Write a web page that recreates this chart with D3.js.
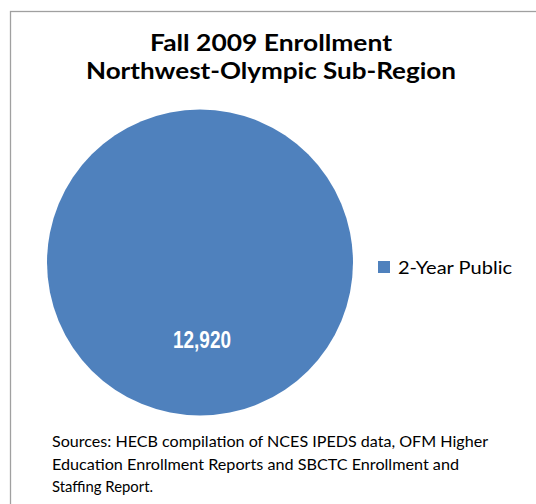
<!DOCTYPE html>
<html>
<head>
<meta charset="utf-8">
<script src="https://cdn.jsdelivr.net/npm/d3@7"></script>
<style>
  body { margin: 0; background: #fff; }
  svg { display: block; }
</style>
</head>
<body>
<svg width="536" height="504"></svg>
<script>
var categories = ["2-Year Public"];
var values = [12920];
var colors = ["#4f81bd"];
var titleLines = ["Fall 2009 Enrollment", "Northwest-Olympic Sub-Region"];
var sourceLines = [
  "Sources: HECB compilation of NCES IPEDS data, OFM Higher",
  "Education Enrollment Reports and SBCTC Enrollment and",
  "Staffing Report."
];

var svg = d3.select("svg"),
    width = +svg.attr("width"),
    height = +svg.attr("height");

// chart area border (runs off the right and bottom of the picture)
svg.append("rect")
    .attr("x", 10.5)
    .attr("y", 11.5)
    .attr("width", 700)
    .attr("height", 700)
    .attr("fill", "#fff")
    .attr("stroke", "#a0a0a0")
    .attr("stroke-width", 1.3);

// title
svg.append("g")
    .selectAll("text")
    .data(titleLines)
    .enter().append("text")
    .attr("x", 271)
    .attr("y", function(d, i) { return 51 + i * 28; })
    .attr("text-anchor", "middle")
    .attr("font-family", "Lato, 'Open Sans', sans-serif")
    .attr("font-weight", "bold")
    .attr("font-size", 22.5)
    .attr("textLength", function(d, i) { return i ? 370 : 242; })
    .attr("lengthAdjust", "spacingAndGlyphs")
    .attr("fill", "#000")
    .text(function(d) { return d; });

var pie = d3.pie().sort(null);
var arc = d3.arc().innerRadius(0).outerRadius(153);

var g = svg.append("g")
    .attr("transform", "translate(200,262.5)");

g.selectAll("path")
    .data(pie(values))
    .enter().append("path")
    .attr("d", arc)
    .attr("fill", function(d, i) { return colors[i]; });

// data label
g.selectAll("text.label")
    .data(pie(values))
    .enter().append("text")
    .attr("class", "label")
    .attr("x", 2)
    .attr("y", 85)
    .attr("text-anchor", "middle")
    .attr("font-family", "'Liberation Sans', Arial, sans-serif")
    .attr("font-weight", "bold")
    .attr("font-size", 23)
    .attr("textLength", 58)
    .attr("lengthAdjust", "spacingAndGlyphs")
    .attr("fill", "#fff")
    .text(function(d) { return d3.format(",")(d.value); });

// legend
var legend = svg.append("g")
    .selectAll("g")
    .data(categories)
    .enter().append("g")
    .attr("transform", function(d, i) { return "translate(378," + (261 + i * 22) + ")"; });

legend.append("rect")
    .attr("width", 12)
    .attr("height", 12)
    .attr("fill", function(d, i) { return colors[i]; });

legend.append("text")
    .attr("x", 20)
    .attr("y", 12.5)
    .attr("font-family", "Lato, 'Open Sans', sans-serif")
    .attr("font-size", 18)
    .attr("textLength", 114)
    .attr("lengthAdjust", "spacingAndGlyphs")
    .attr("fill", "#000")
    .text(function(d) { return d; });

// sources note
svg.append("g")
    .selectAll("text")
    .data(sourceLines)
    .enter().append("text")
    .attr("x", 52)
    .attr("y", function(d, i) { return 447 + i * 22.5; })
    .attr("font-family", "Lato, 'Open Sans', sans-serif")
    .attr("font-size", 16)
    .attr("textLength", function(d, i) { return [436, 407, 101][i]; })
    .attr("lengthAdjust", "spacingAndGlyphs")
    .attr("fill", "#000")
    .text(function(d) { return d; });
</script>
</body>
</html>
